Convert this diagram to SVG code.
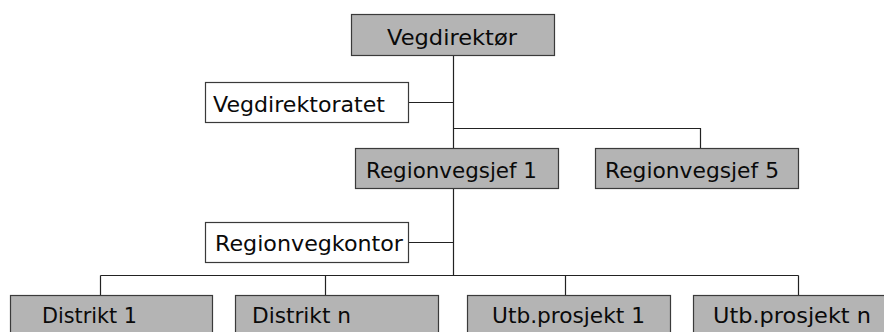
<svg xmlns="http://www.w3.org/2000/svg" width="884" height="332" viewBox="0 0 884 332">
<style>
.g rect{fill:#b4b4b4;stroke:#3a3a3a;stroke-width:1.2}
.w rect{fill:#ffffff;stroke:#3a3a3a;stroke-width:1.2}
text{font-family:"DejaVu Sans",Verdana,sans-serif;font-size:21px;fill:#0a0a0a}
.c{stroke:#222;stroke-width:1.2;fill:none}
</style>
<rect width="884" height="332" fill="#fff"/>
<g id="connectors">
<path class="c" d="M453.5 55V148M408 102.5H453.5M453.5 128.5H700.5V148M453.5 188V275.5M408 242.5H453.5M100.5 275.5H798.5M100.5 275.5V295M325.5 275.5V295M565.5 275.5V295M798.5 275.5V295"/>
</g>
<g id="vegdirektor" class="g"><rect x="351.5" y="14.5" width="203" height="41"/><text x="387" y="45" textLength="130" lengthAdjust="spacingAndGlyphs">Vegdirektør</text></g>
<g id="vegdirektoratet" class="w"><rect x="205.5" y="82.5" width="203" height="40"/><text x="213" y="112" textLength="172" lengthAdjust="spacingAndGlyphs">Vegdirektoratet</text></g>
<g id="regionvegsjef1" class="g"><rect x="355.5" y="148.5" width="203" height="40"/><text x="366" y="178" textLength="171" lengthAdjust="spacingAndGlyphs">Regionvegsjef 1</text></g>
<g id="regionvegsjef5" class="g"><rect x="595.5" y="148.5" width="203" height="40"/><text x="605" y="178" textLength="174" lengthAdjust="spacingAndGlyphs">Regionvegsjef 5</text></g>
<g id="regionvegkontor" class="w"><rect x="205.5" y="222.5" width="203" height="40"/><text x="215" y="251" textLength="188" lengthAdjust="spacingAndGlyphs">Regionvegkontor</text></g>
<g id="distrikt1" class="g"><rect x="10.5" y="295.5" width="202" height="45"/><text x="42" y="323" textLength="95" lengthAdjust="spacingAndGlyphs">Distrikt 1</text></g>
<g id="distriktn" class="g"><rect x="235.5" y="295.5" width="203" height="45"/><text x="252" y="323" textLength="99" lengthAdjust="spacingAndGlyphs">Distrikt n</text></g>
<g id="utbprosjekt1" class="g"><rect x="467.5" y="295.5" width="203" height="45"/><text x="492" y="323" textLength="153" lengthAdjust="spacingAndGlyphs">Utb.prosjekt 1</text></g>
<g id="utbprosjektn" class="g"><rect x="693.5" y="295.5" width="203" height="45"/><text x="713" y="323" textLength="158" lengthAdjust="spacingAndGlyphs">Utb.prosjekt n</text></g>
</svg>
